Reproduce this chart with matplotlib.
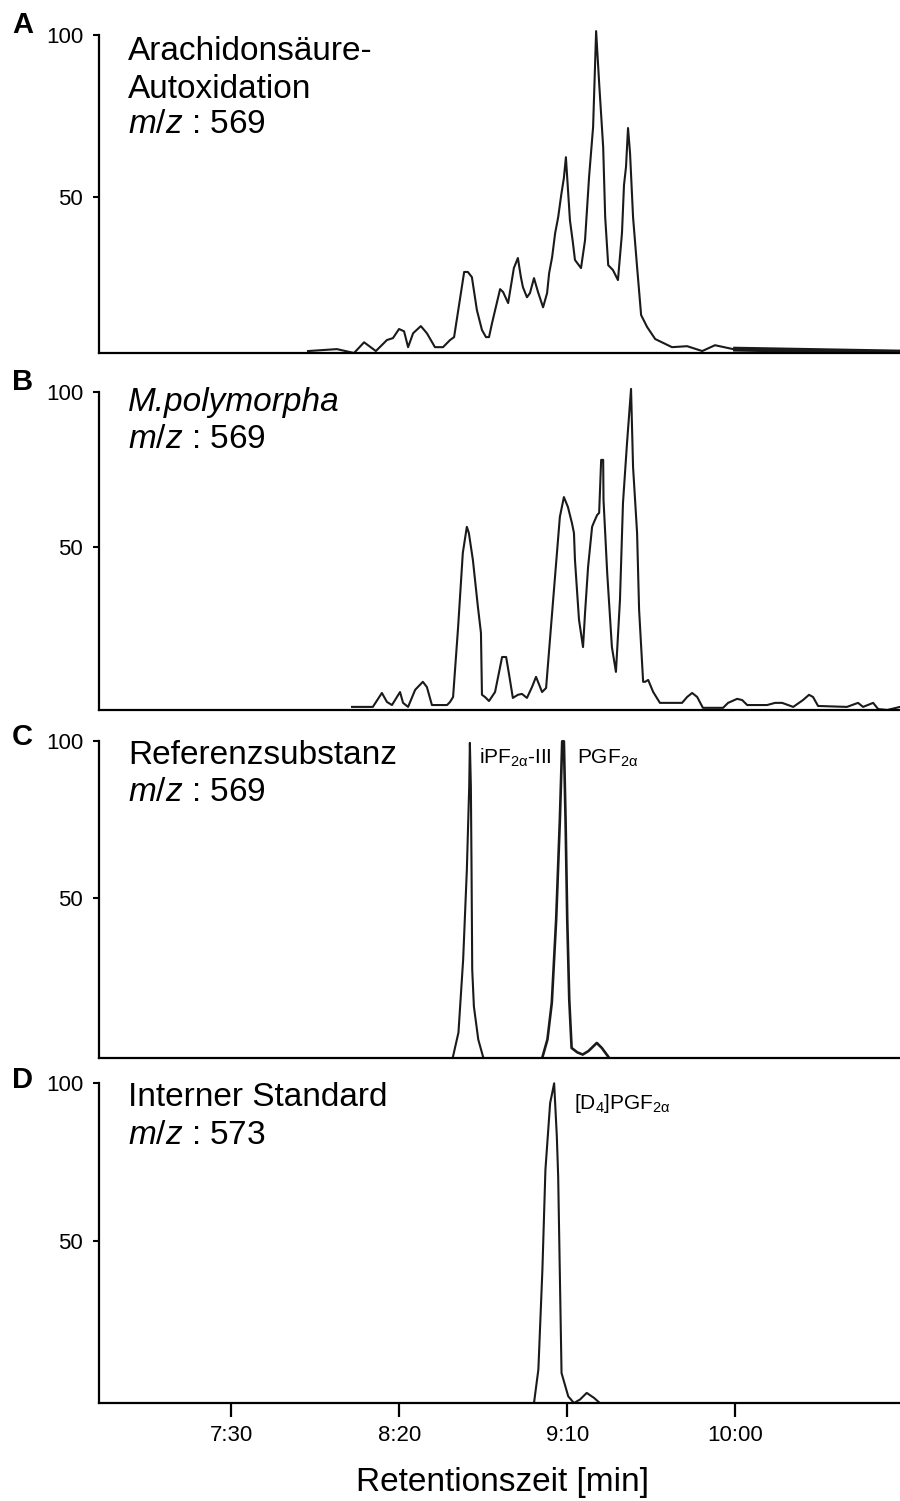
import matplotlib
matplotlib.use("Agg")
import matplotlib.pyplot as plt

plt.rcParams['font.family'] = 'Liberation Sans'
plt.rcParams['mathtext.fontset'] = 'custom'
plt.rcParams['mathtext.rm'] = 'Liberation Sans'
plt.rcParams['mathtext.it'] = 'Liberation Sans:italic'
plt.rcParams['mathtext.default'] = 'regular'

# retention time in seconds, relative intensity in %
a_time = [472.8, 481.4, 486.5, 489.5, 493.0, 496.3, 498.1, 499.9, 501.4, 502.6,
          504.1, 506.4, 508.2, 510.6, 513.0, 515.1, 516.3, 519.3, 520.4, 521.6,
          523.1, 524.6, 525.8, 526.7, 527.6, 530.0, 530.9, 532.4, 534.1, 535.3,
          536.2, 536.8, 538.0, 538.9, 540.1, 541.3, 542.8, 544.0, 544.6, 545.5,
          546.4, 547.3, 548.2, 549.0, 549.6, 549.9, 550.8, 551.7, 552.3, 554.1,
          555.3, 556.5, 557.7, 558.6, 559.5, 560.7, 561.3, 562.2, 563.6, 565.1,
          566.3, 566.9, 567.5, 568.1, 568.7, 569.6, 570.8, 572.0, 573.8, 576.2,
          581.2, 585.7, 590.2, 594.0, 599.4]
a_int = [2.5, 3.1, 1.9, 5.2, 2.5, 5.9, 6.5, 9.3, 8.6, 3.7,
         8.0, 10.2, 8.0, 3.7, 3.7, 5.9, 6.8, 26.9, 26.9, 25.3,
         15.1, 9.0, 6.8, 6.8, 11.1, 21.6, 20.7, 17.3, 28.1, 31.2,
         25.3, 22.2, 19.1, 20.4, 25.0, 20.7, 16.0, 20.4, 26.5, 31.5,
         38.9, 43.8, 50.6, 55.9, 62.3, 57.4, 42.9, 35.8, 30.6, 28.1,
         36.7, 56.2, 71.6, 101.2, 85.2, 65.4, 43.8, 29.0, 27.5, 24.4,
         38.9, 53.7, 59.3, 71.3, 63.6, 43.8, 28.4, 13.6, 9.9, 6.2,
         3.7, 4.0, 2.5, 4.3, 3.1]
a_tail_time = [599.4, 649.1]
a_tail_int = [3.1, 2.2]

b_time = [485.9, 492.1, 494.8, 496.3, 497.8, 500.2, 501.1, 502.6, 504.7, 507.0,
          508.2, 509.7, 514.2, 515.1, 516.0, 517.5, 518.9, 520.1, 520.7, 521.9,
          523.4, 524.3, 524.6, 525.5, 526.7, 528.5, 530.6, 531.8, 532.7, 533.8,
          535.3, 536.5, 538.0, 539.5, 540.7, 542.5, 543.7, 545.8, 547.8, 549.0,
          550.2, 551.4, 552.0, 552.3, 552.9, 553.5, 554.7, 555.3, 556.2, 557.4,
          558.0, 558.9, 559.5, 560.1, 560.7, 560.8, 561.9, 563.3, 564.5, 565.7,
          566.6, 567.8, 569.0, 569.6, 570.8, 571.4, 572.6, 573.2, 574.1, 575.6,
          577.6, 584.2, 585.7, 587.2, 588.7, 590.4, 596.4, 597.9, 600.6, 602.1,
          603.6, 609.5, 611.9, 614.0, 617.3, 620.2, 622.0, 623.2, 624.7, 633.3,
          636.6, 638.1, 641.1, 642.6, 645.3, 649.1]
b_int = [-1.6, -1.6, 2.9, 0.0, -1.0, 3.2, -0.3, -1.6, 3.9, 6.5,
         4.8, -1.0, -1.0, 0.0, 1.6, 24.2, 48.1, 56.5, 54.5, 45.8,
         30.6, 22.3, 2.3, 1.6, 0.3, 3.2, 14.5, 14.5, 8.7, 1.3,
         2.3, 2.6, 1.3, 4.8, 8.1, 3.2, 4.5, 32.9, 59.7, 66.1,
         62.9, 57.7, 54.5, 45.8, 36.1, 26.5, 17.7, 28.7, 43.5, 56.5,
         58.1, 60.3, 61.0, 78.1, 78.1, 65.2, 41.6, 17.7, 9.7, 32.9,
         64.2, 83.5, 101.0, 75.8, 54.5, 29.7, 6.5, 6.5, 7.1, 3.2,
         -0.3, -0.3, 1.6, 2.9, 1.6, -1.9, -1.9, -0.3, 1.0, 0.6,
         -1.0, -1.0, -0.3, -0.3, -1.6, 0.6, 2.3, 1.6, -1.3, -1.6,
         -0.3, -1.6, -0.3, -2.3, -2.6, -1.6]

c1_time = [515.9, 517.6, 519.0, 520.1, 520.8, 521.0, 521.3, 521.5, 521.7, 522.2, 523.5, 525.0]
c1_int = [-1.0, 7.0, 30.3, 58.9, 85.4, 99.4, 85.4, 58.9, 27.1, 15.3, 4.8, -1.0]
c2_time = [542.7, 544.1, 545.4, 546.7, 547.8, 548.5, 549.0, 549.5, 550.0, 550.6,
           551.3, 553.0, 554.6, 556.3, 558.8, 560.3, 562.5]
c2_int = [-0.5, 4.8, 16.5, 43.0, 74.8, 99.9, 99.9, 74.8, 43.0, 17.5,
          2.1, 0.7, 0.0, 1.1, 3.7, 2.1, -1.1]

d_time = [540.1, 541.4, 542.6, 543.5, 544.9, 546.1, 546.9, 547.3, 548.3, 550.3,
          552.0, 553.8, 555.8, 558.0, 559.7]
d_int = [-1.4, 9.2, 40.8, 72.5, 93.6, 99.9, 83.0, 70.3, 8.1, 0.7,
         -1.4, -0.3, 1.8, 0.2, -1.4]

x_ticks = [450, 500, 550, 600]
x_ticklabels = ['7:30', '8:20', '9:10', '10:00']
y_ticks = [50, 100]

W, H = 900, 1501
fig = plt.figure(figsize=(W / 100, H / 100), dpi=100)

# (baseline px, px of 100, ymin)
panels = [(353, 35, 1.9), (710, 392, -2.6), (1058, 741, -1.1), (1403, 1083, -1.4)]
ytop = 105
axes = []
for base, p100, ymin in panels:
    scale = (base - p100) / (100 - ymin)
    top = p100 - (ytop - 100) * scale
    ax = fig.add_axes([98.5 / W, 1 - base / H, 1 - 98.5 / W, (base - top) / H])
    ax.set_xlim(410.4, 649.1)
    ax.set_ylim(ymin, ytop)
    for s in ['top', 'right']:
        ax.spines[s].set_visible(False)
    ax.spines['left'].set_bounds(ymin, 100)
    ax.spines['left'].set_linewidth(1.6)
    ax.spines['bottom'].set_linewidth(1.6)
    ax.set_yticks(y_ticks)
    ax.set_yticklabels([str(t) for t in y_ticks])
    ax.tick_params(axis='y', direction='out', length=4, width=1.5, pad=7, labelsize=16)
    ax.set_xticks([])
    axes.append(ax)

lc = '#1a1a1a'
axes[0].plot(a_time, a_int, color=lc, lw=1.5)
axes[0].plot(a_tail_time, a_tail_int, color=lc, lw=3.5, solid_capstyle='butt')
axes[1].plot(b_time, b_int, color=lc, lw=1.5)
axes[2].plot(c1_time, c1_int, color=lc, lw=1.5)
axes[2].plot(c2_time, c2_int, color=lc, lw=1.9)
axes[3].plot(d_time, d_int, color=lc, lw=1.5)

axes[3].set_xticks(x_ticks)
axes[3].set_xticklabels(x_ticklabels)
axes[3].tick_params(axis='x', direction='out', length=10, width=1.6, pad=6, labelsize=16)


def ftext(px, py, s, **kw):
    fig.text(px / W, 1 - py / H, s, **kw)


# panel letters
for letter, py in zip('ABCD', [33, 390, 745, 1088]):
    ftext(12, py, letter, fontsize=21, fontweight='bold', va='baseline')

big = dict(fontsize=24, va='baseline')
ftext(128, 60, 'Arachidonsäure-', **big)
ftext(128, 98, 'Autoxidation', **big)
ftext(128, 133, r'$\mathit{m/z}$ : 569', **big)
ftext(128, 411, 'M.polymorpha', fontstyle='italic', **big)
ftext(128, 448, r'$\mathit{m/z}$ : 569', **big)
ftext(128, 764, 'Referenzsubstanz', **big)
ftext(128, 801, r'$\mathit{m/z}$ : 569', **big)
ftext(128, 1106, 'Interner Standard', **big)
ftext(128, 1144, r'$\mathit{m/z}$ : 573', **big)

small = dict(fontsize=15, va='baseline')
ftext(479, 764, r'iPF$_{2\alpha}$-III', **small)
ftext(577, 764, r'PGF$_{2\alpha}$', **small)
ftext(574, 1109, r'[D$_4$]PGF$_{2\alpha}$', **small)

ftext(502, 1491, 'Retentionszeit [min]', fontsize=24, ha='center', va='baseline')

fig.savefig('out.png', dpi=100)
